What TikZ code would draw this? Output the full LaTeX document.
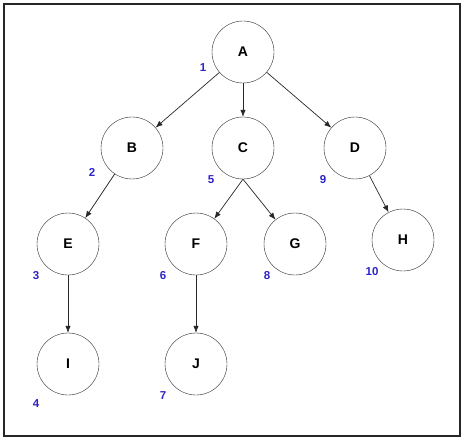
\documentclass[tikz,border=0pt]{standalone}
\usepackage{fontspec}
\setmainfont{Liberation Sans}
\usepackage{xcolor}
\usetikzlibrary{arrows.meta}
\definecolor{order}{RGB}{45,35,200}
\definecolor{edge}{RGB}{40,40,40}

\begin{document}
\begin{tikzpicture}[
  x=1pt, y=-1pt,
  vertex/.style={draw=edge, circle, minimum size=62pt, inner sep=0pt,
    font=\fontsize{14}{16}\selectfont\bfseries},
  visit/.style={text=order, inner sep=0pt, font=\fontsize{11.5}{13}\selectfont\bfseries},
  flow/.style={-{Latex[length=7pt,width=5.5pt]}, draw=edge, line width=0.7pt}
]
\useasboundingbox (0,0) rectangle (466,441);
\draw[line width=1.3pt, draw=black!85] (4,4) rectangle (460,436);
% tree
\node[vertex] (a) at (243,52) {A};
\node[vertex] (b) at (132,148) {B};
\node[vertex] (c) at (243,148) {C};
\node[vertex] (d) at (355,148) {D};
\node[vertex] (e) at (68,244) {E};
\node[vertex] (f) at (196,244) {F};
\node[vertex] (g) at (295,244) {G};
\node[vertex] (h) at (403,240) {H};
\node[vertex] (i) at (68,364) {I};
\node[vertex] (j) at (196,364) {J};
% visiting order
\node[visit] (n1) at (203,68) {1};
\node[visit] (n2) at (92,172) {2};
\node[visit] (n3) at (36,276) {3};
\node[visit] (n4) at (36,404) {4};
\node[visit] (n5) at (211,180) {5};
\node[visit] (n6) at (163,276) {6};
\node[visit] (n7) at (163,396) {7};
\node[visit] (n8) at (267,276) {8};
\node[visit] (n9) at (323,180) {9};
\node[visit] (n10) at (372,272) {10};
% edges
\draw[flow] (a) -- (b);
\draw[flow] (a) -- (c);
\draw[flow] (a) -- (d);
\draw[flow] (b) -- (e);
\draw[flow] (c.south) -- (f);
\draw[flow] (c.south) -- (g);
\draw[flow] (d) -- (h);
\draw[flow] (e) -- (i);
\draw[flow] (f) -- (j);
\end{tikzpicture}
\end{document}
